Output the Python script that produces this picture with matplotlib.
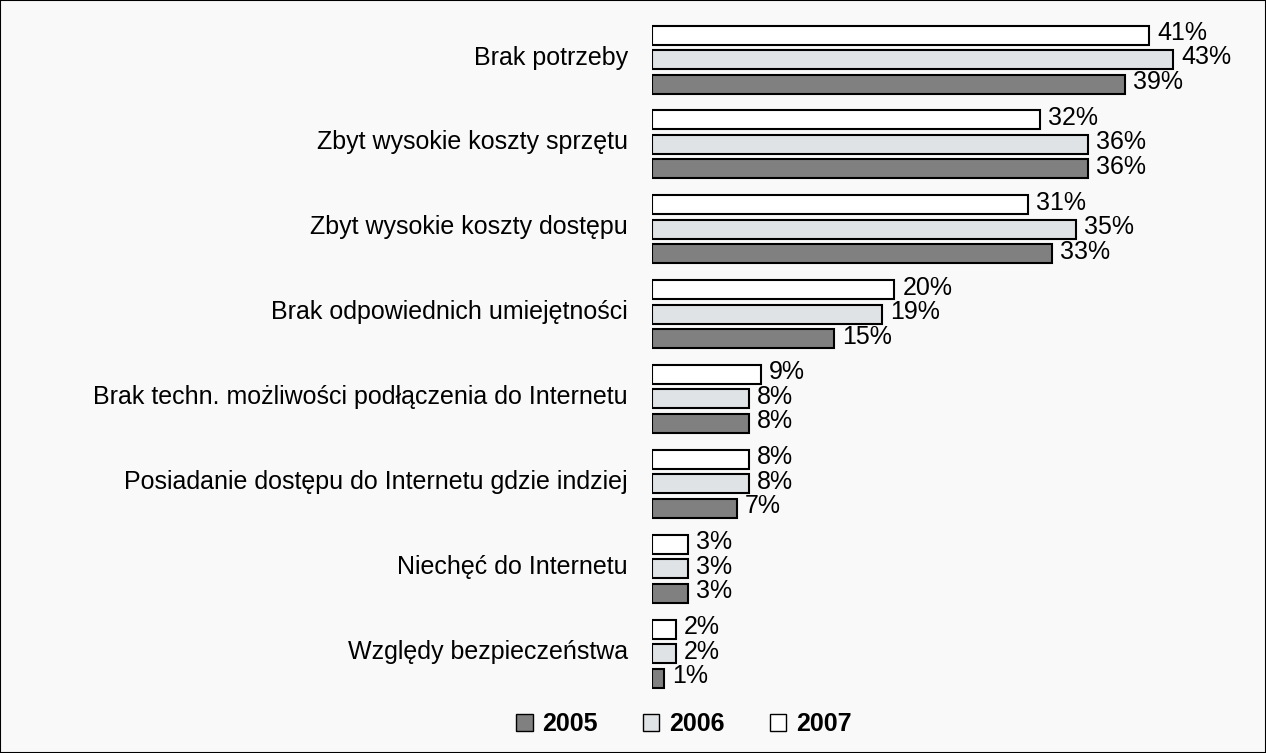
import matplotlib.pyplot as plt
from matplotlib.patches import Patch, Rectangle
import numpy as np

plt.rcParams['font.family'] = ['Liberation Sans', 'DejaVu Sans']

categories = ['Brak potrzeby', 'Zbyt wysokie koszty sprzętu', 'Zbyt wysokie koszty dostępu',
              'Brak odpowiednich umiejętności', 'Brak techn. możliwości podłączenia do Internetu',
              'Posiadanie dostępu do Internetu gdzie indziej', 'Niechęć do Internetu',
              'Względy bezpieczeństwa']
v2007 = [41, 32, 31, 20, 9, 8, 3, 2]
v2006 = [43, 36, 35, 19, 8, 8, 3, 2]
v2005 = [39, 36, 33, 15, 8, 7, 3, 1]

W, H = 1266, 753
fig = plt.figure(figsize=(W / 100, H / 100), dpi=100)
fig.patch.set_facecolor('#f9f9f9')
x0 = 652
ax = fig.add_axes([x0 / W, 0, (W - x0) / W, 1])
ax.set_facecolor('none')

pxpct = 12.12
pitch = 84.86
top = 59.5
ax.set_xlim(0, (W - x0) / pxpct)
ax.set_ylim((H - top) / pitch, -top / pitch)

y = np.arange(len(categories))
off = 24.5 / pitch
h = 19 / pitch
series = [(v2007, -off, 'white'), (v2006, 0, '#e0e3e6'), (v2005, off, '#808080')]
for vals, d, col in series:
    ax.barh(y + d, vals, height=h, color=col, edgecolor='black', linewidth=1.5)
    for yi, v in zip(y + d, vals):
        ax.text(v + 8 / pxpct, yi - 2 / pitch, f'{v}%', va='center', ha='left', fontsize=18)

for yi, c in zip(y, categories):
    ax.text(-24 / pxpct, yi - 2 / pitch, c, ha='right', va='center', fontsize=18, clip_on=False)

ax.axis('off')

handles = [Patch(facecolor='#808080', edgecolor='black', label='2005'),
           Patch(facecolor='#e0e3e6', edgecolor='black', label='2006'),
           Patch(facecolor='white', edgecolor='black', label='2007')]
fig.legend(handles=handles, loc='center', bbox_to_anchor=(684 / W, 1 - 724 / H), ncol=3,
           frameon=False, prop={'weight': 'bold', 'size': 18}, handlelength=0.65,
           handleheight=0.65, handletextpad=0.4, columnspacing=1.8)

fig.patches.append(Rectangle((0, 0), 1, 1, transform=fig.transFigure, fill=False,
                             edgecolor='black', linewidth=1.5))

fig.savefig('out.png', dpi=100, facecolor=fig.get_facecolor())
